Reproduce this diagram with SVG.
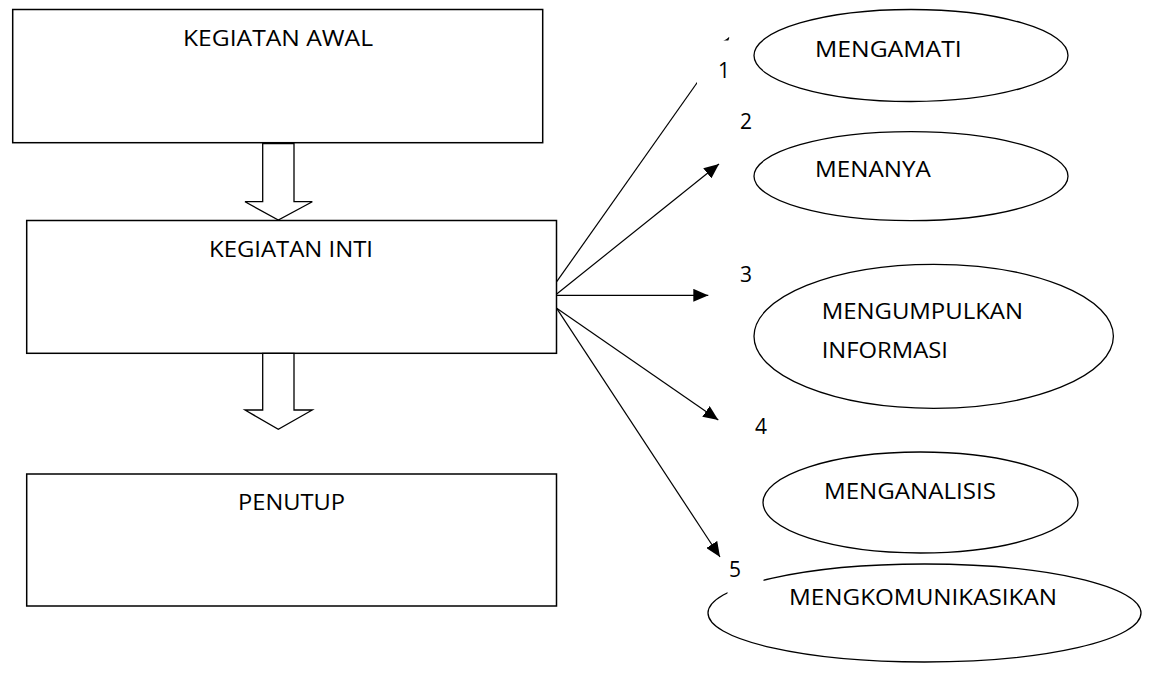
<svg xmlns="http://www.w3.org/2000/svg" width="1152" height="673" viewBox="0 0 1152 673">
  <style>
    .box { fill: #ffffff; stroke: #000000; stroke-width: 1.5; }
    .blk { fill: #ffffff; stroke: #000000; stroke-width: 1.3; stroke-linejoin: miter; }
    .ell { fill: #ffffff; stroke: #000000; stroke-width: 1.3; }
    .conn { fill: none; stroke: #000000; stroke-width: 1.2; marker-end: url(#ah); }
    .t { font-family: "Open Sans", "Noto Sans", "Liberation Sans", sans-serif; font-size: 21px; fill: #000000; }
    .mask { fill: #ffffff; stroke: none; }
  </style>
  <defs>
    <marker id="ah" markerUnits="userSpaceOnUse" markerWidth="15" markerHeight="13" refX="15" refY="6.5" orient="auto">
      <path d="M0,0 L15,6.5 L0,13 Z" fill="#000000"/>
    </marker>
  </defs>
  <rect width="1152" height="673" fill="#ffffff"/>

  <g id="kegiatan-awal">
    <rect class="box" x="12.7" y="9.5" width="530" height="133.2"/>
    <text class="t" x="183" y="45.7" textLength="190" lengthAdjust="spacingAndGlyphs">KEGIATAN AWAL</text>
  </g>
  <g id="block-arrow-1">
    <polygon class="blk" points="262.7,143.5 294,143.5 294,201.7 312.3,201.7 278.3,220 245,201.7 262.7,201.7"/>
  </g>
  <g id="kegiatan-inti">
    <rect class="box" x="26.7" y="220.5" width="529.8" height="132.8"/>
    <text class="t" x="209" y="256.7" textLength="164" lengthAdjust="spacingAndGlyphs">KEGIATAN INTI</text>
  </g>
  <g id="block-arrow-2">
    <polygon class="blk" points="262.7,353.3 294,353.3 294,410 312.3,410 278.3,429.3 245,410 262.7,410"/>
  </g>
  <g id="penutup">
    <rect class="box" x="26.7" y="474" width="529.8" height="132"/>
    <text class="t" x="238" y="510" textLength="107" lengthAdjust="spacingAndGlyphs">PENUTUP</text>
  </g>

  <g id="mengamati">
    <ellipse class="ell" cx="911" cy="55.5" rx="157" ry="46"/>
    <text class="t" x="815" y="57.3" textLength="146.7" lengthAdjust="spacingAndGlyphs">MENGAMATI</text>
  </g>
  <g id="menanya">
    <ellipse class="ell" cx="911" cy="176.2" rx="157" ry="44.5"/>
    <text class="t" x="815" y="177.3" textLength="115.7" lengthAdjust="spacingAndGlyphs">MENANYA</text>
  </g>
  <g id="mengumpulkan-informasi">
    <ellipse class="ell" cx="933.7" cy="336.3" rx="179.7" ry="72"/>
    <text class="t" x="821.7" y="319.3" textLength="201.3" lengthAdjust="spacingAndGlyphs">MENGUMPULKAN</text>
    <text class="t" x="821.7" y="357.7" textLength="126.3" lengthAdjust="spacingAndGlyphs">INFORMASI</text>
  </g>
  <g id="menganalisis">
    <ellipse class="ell" cx="920.5" cy="502.5" rx="157.5" ry="50.5"/>
    <text class="t" x="824" y="499" textLength="172" lengthAdjust="spacingAndGlyphs">MENGANALISIS</text>
  </g>
  <g id="mengkomunikasikan">
    <ellipse class="ell" cx="924.5" cy="613" rx="216.5" ry="49"/>
    <text class="t" x="789" y="605" textLength="268" lengthAdjust="spacingAndGlyphs">MENGKOMUNIKASIKAN</text>
  </g>

  <g id="connectors">
    <line class="conn" x1="556.7" y1="281.7" x2="729" y2="37.5"/>
    <line class="conn" x1="556.7" y1="294" x2="719" y2="164"/>
    <line class="conn" x1="556.7" y1="295.3" x2="708.3" y2="295.3"/>
    <line class="conn" x1="556.7" y1="308.3" x2="718.3" y2="420"/>
    <line class="conn" x1="556.7" y1="308.3" x2="720" y2="557"/>
  </g>

  <g id="labels">
    <rect class="mask" x="697" y="40.5" width="55" height="48"/>
    <text class="t" x="718" y="77.5">1</text>
    <text class="t" x="740" y="129">2</text>
    <text class="t" x="740" y="281.7">3</text>
    <text class="t" x="755" y="434">4</text>
    <rect class="mask" x="727.5" y="560" width="36" height="37"/>
    <text class="t" x="729" y="577">5</text>
  </g>
</svg>
